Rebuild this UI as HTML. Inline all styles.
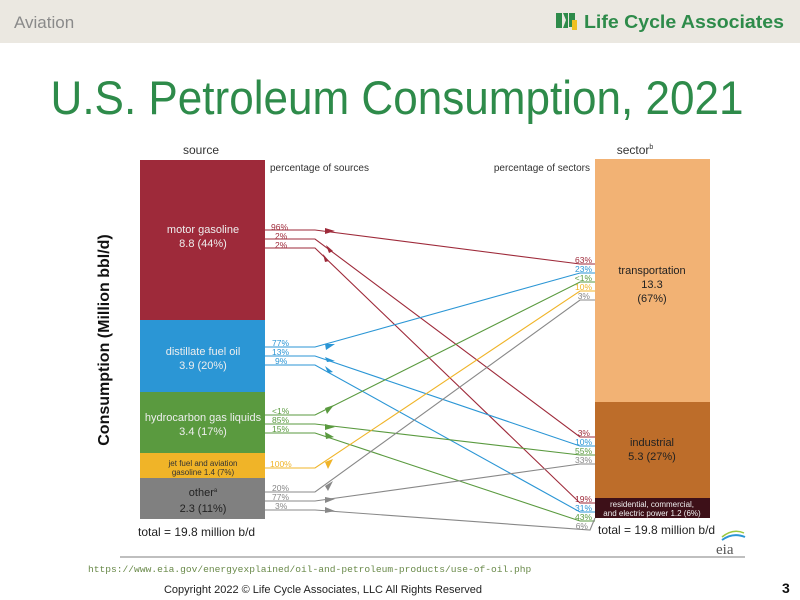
<!DOCTYPE html>
<html><head><meta charset="utf-8"><style>
html,body{margin:0;padding:0;width:800px;height:600px;overflow:hidden;background:#fff;font-family:"Liberation Sans",sans-serif;}
</style></head><body>
<svg width="800" height="600" viewBox="0 0 800 600" xmlns="http://www.w3.org/2000/svg" font-family="Liberation Sans, sans-serif">
<rect x="0" y="0" width="800" height="43" fill="#ebe8e1"/>
<text x="14" y="28" font-size="17" fill="#8a8a8a">Aviation</text>
<rect x="556" y="13" width="6" height="15" fill="#2e8b4a"/>
<polygon points="563,13 568,13 568,28 563,28 566,20" fill="#2e8b4a"/>
<rect x="569" y="13" width="6" height="14" fill="#2e8b4a"/>
<rect x="572" y="20" width="5" height="10" fill="#f0c020"/>
<text x="584" y="28" font-size="18" font-weight="bold" fill="#2e8b4a" textLength="200" lengthAdjust="spacingAndGlyphs">Life Cycle Associates</text>
<text x="397" y="114" font-size="47" fill="#2e8b4a" text-anchor="middle" textLength="693" lengthAdjust="spacingAndGlyphs">U.S. Petroleum Consumption, 2021</text>

<text x="201" y="154" font-size="12" fill="#333" text-anchor="middle">source</text>
<text x="635" y="154" font-size="12" fill="#333" text-anchor="middle">sector<tspan font-size="7" dy="-5">b</tspan></text>
<text x="270" y="171" font-size="10" fill="#333">percentage of sources</text>
<text x="590" y="171" font-size="10" fill="#333" text-anchor="end">percentage of sectors</text>

<rect x="140" y="160" width="125" height="160" fill="#9e2a3a"/>
<rect x="140" y="320" width="125" height="72" fill="#2b96d5"/>
<rect x="140" y="392" width="125" height="61" fill="#5a9a3f"/>
<rect x="140" y="453" width="125" height="25" fill="#f0b428"/>
<rect x="140" y="478" width="125" height="41" fill="#808080"/>
<g font-size="11" fill="#eee" text-anchor="middle">
<text x="203" y="233">motor gasoline</text><text x="203" y="247">8.8 (44%)</text>
<text x="203" y="355">distillate fuel oil</text><text x="203" y="369">3.9 (20%)</text>
<text x="203" y="421">hydrocarbon gas liquids</text><text x="203" y="435">3.4 (17%)</text>
<text x="203" y="466" font-size="8" fill="#333">jet fuel and aviation</text><text x="203" y="475" font-size="8" fill="#333">gasoline  1.4 (7%)</text>
<text x="203" y="496" fill="#222">other<tspan font-size="6" dy="-4">a</tspan></text><text x="203" y="512" fill="#222">2.3 (11%)</text>
</g>
<text x="138" y="536" font-size="12" fill="#222">total = 19.8 million b/d</text>

<rect x="595" y="159" width="115" height="243" fill="#f2b274"/>
<rect x="595" y="402" width="115" height="96" fill="#bd6d2a"/>
<rect x="595" y="498" width="115" height="20" fill="#3d1018"/>
<g font-size="11" fill="#222" text-anchor="middle">
<text x="652" y="274">transportation</text><text x="652" y="288">13.3</text><text x="652" y="302">(67%)</text>
<text x="652" y="446">industrial</text><text x="652" y="460">5.3  (27%)</text>
<text x="652" y="507" font-size="8" fill="#eee">residential, commercial,</text><text x="652" y="516" font-size="8" fill="#eee">and electric power  1.2  (6%)</text>
</g>
<text x="598" y="534" font-size="12" fill="#222">total = 19.8 million b/d</text>
<text x="716" y="554" font-size="15" fill="#555" font-family="Liberation Serif, serif">eia</text>
<path d="M722,540 Q733,532 745,537" stroke="#2b96d5" stroke-width="2" fill="none"/>
<path d="M722,537 Q733,528 744,533" stroke="#9bc83c" stroke-width="1.5" fill="none"/>

<g fill="none" stroke-width="1.1">
<path d="M265,230H315L580,264H595" stroke="#9e2a3a"/>
<path d="M265,239H315L580,437H595" stroke="#9e2a3a"/>
<path d="M265,248H315L580,503H595" stroke="#9e2a3a"/>
<path d="M265,347H315L580,273H595" stroke="#2b96d5"/>
<path d="M265,356H315L580,446H595" stroke="#2b96d5"/>
<path d="M265,365H315L580,512H595" stroke="#2b96d5"/>
<path d="M265,415H315L580,282H595" stroke="#5a9a3f"/>
<path d="M265,424H315L580,455H595" stroke="#5a9a3f"/>
<path d="M265,433H315L580,521H595" stroke="#5a9a3f"/>
<path d="M265,468H315L580,291H595" stroke="#f0b428"/>
<path d="M265,492H315L580,300H595" stroke="#888"/>
<path d="M265,501H315L580,464H595" stroke="#888"/>
<path d="M265,510H315L590,530L595,518" stroke="#888"/>
</g>
<g>
<polygon points="325,228 335,231 325,234" fill="#9e2a3a"/>
<polygon points="326,245 333,251 329,253" fill="#9e2a3a"/>
<polygon points="323,254 329,261 325,262" fill="#9e2a3a"/>
<polygon points="325,344 335,344 326,350" fill="#2b96d5"/>
<polygon points="325,357 335,361 327,362" fill="#2b96d5"/>
<polygon points="325,366 333,372 328,373" fill="#2b96d5"/>
<polygon points="325,408 334,405 327,414" fill="#5a9a3f"/>
<polygon points="325,424 335,427 325,430" fill="#5a9a3f"/>
<polygon points="325,432 334,437 326,439" fill="#5a9a3f"/>
<polygon points="325,462 333,459 328,469" fill="#f0b428"/>
<polygon points="325,486 333,481 328,491" fill="#888"/>
<polygon points="325,497 335,499 325,503" fill="#888"/>
<polygon points="325,507 335,511 325,513" fill="#888"/>
</g>
<g font-size="8.5">
<text x="271" y="230" fill="#9e2a3a">96%</text><text x="275" y="239" fill="#9e2a3a">2%</text><text x="275" y="248" fill="#9e2a3a">2%</text>
<text x="272" y="346" fill="#2b96d5">77%</text><text x="272" y="355" fill="#2b96d5">13%</text><text x="275" y="364" fill="#2b96d5">9%</text>
<text x="272" y="414" fill="#5a9a3f">&lt;1%</text><text x="272" y="423" fill="#5a9a3f">85%</text><text x="272" y="432" fill="#5a9a3f">15%</text>
<text x="270" y="467" fill="#f0b428">100%</text>
<text x="272" y="491" fill="#888">20%</text><text x="272" y="500" fill="#888">77%</text><text x="275" y="509" fill="#888">3%</text>
</g>
<g font-size="8.5" text-anchor="end">
<text x="592" y="263" fill="#9e2a3a">63%</text><text x="592" y="272" fill="#2b96d5">23%</text><text x="592" y="281" fill="#5a9a3f">&lt;1%</text><text x="592" y="290" fill="#f0b428">10%</text><text x="590" y="299" fill="#888">3%</text>
<text x="590" y="436" fill="#9e2a3a">3%</text><text x="592" y="445" fill="#2b96d5">10%</text><text x="592" y="454" fill="#5a9a3f">55%</text><text x="592" y="463" fill="#888">33%</text>
<text x="592" y="502" fill="#9e2a3a">19%</text><text x="592" y="511" fill="#2b96d5">31%</text><text x="592" y="520" fill="#5a9a3f">43%</text><text x="588" y="529" fill="#888">6%</text>
</g>

<text transform="translate(109,340) rotate(-90)" font-size="16" font-weight="bold" fill="#111" text-anchor="middle">Consumption (Million bbl/d)</text>

<line x1="120" y1="557" x2="745" y2="557" stroke="#999" stroke-width="1.2"/>
<text x="88" y="572" font-size="9.6" fill="#6a8a4a" font-family="Liberation Mono, monospace">https://www.eia.gov/energyexplained/oil-and-petroleum-products/use-of-oil.php</text>
<text x="323" y="593" font-size="11" fill="#222" text-anchor="middle">Copyright 2022 © Life Cycle Associates, LLC All Rights Reserved</text>
<text x="782" y="593" font-size="14" font-weight="bold" fill="#111">3</text>
</svg>
</body></html>
